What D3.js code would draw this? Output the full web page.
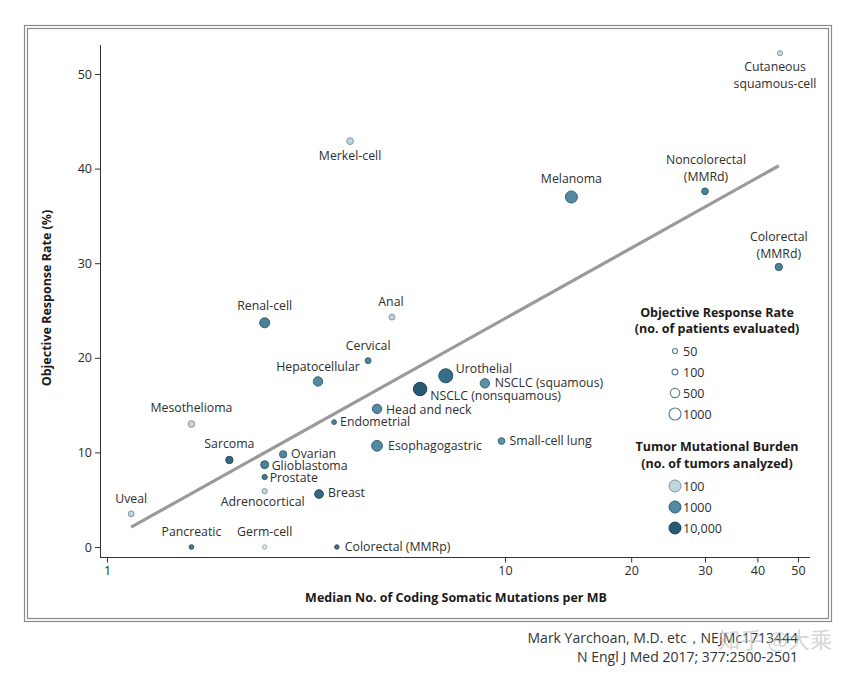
<!DOCTYPE html>
<html>
<head>
<meta charset="utf-8">
<script src="https://cdn.jsdelivr.net/npm/d3@7"></script>
<style>
  html, body { margin: 0; padding: 0; background: #ffffff; }
  svg { display: block; font-family: "Open Sans", "Noto Sans", sans-serif; }
</style>
</head>
<body>
<svg id="chart" width="853" height="675"></svg>
<script>
// ---------------- DATA ----------------
const cancers = [
  "Cutaneous squamous-cell", "Merkel-cell", "Melanoma", "Noncolorectal (MMRd)", "Colorectal (MMRd)",
  "Renal-cell", "Anal", "Cervical", "Hepatocellular", "Urothelial",
  "NSCLC (nonsquamous)", "NSCLC (squamous)", "Head and neck", "Endometrial", "Mesothelioma",
  "Esophagogastric", "Small-cell lung", "Sarcoma", "Ovarian", "Glioblastoma",
  "Prostate", "Adrenocortical", "Breast", "Uveal", "Pancreatic",
  "Germ-cell", "Colorectal (MMRp)"
];
// median no. of coding somatic mutations per MB
const mutationsPerMB = [
  45.3, 4.08, 14.4, 30.0, 45.0,
  2.49, 5.2, 4.53, 3.39, 7.1,
  6.12, 8.9, 4.77, 3.72, 1.63,
  4.77, 9.8, 2.03, 2.77, 2.49,
  2.49, 2.49, 3.41, 1.15, 1.63,
  2.49, 3.78
];
// objective response rate (%)
const responseRate = [
  52.2, 42.9, 37.0, 37.6, 29.6,
  23.7, 24.3, 19.7, 17.5, 18.1,
  16.7, 17.3, 14.6, 13.2, 13.0,
  10.7, 11.2, 9.2, 9.8, 8.7,
  7.4, 5.9, 5.6, 3.5, 0,
  0, 0
];
// no. of patients evaluated (ORR)
const patientsEvaluated = [
  60, 170, 1000, 170, 230,
  600, 100, 100, 500, 1500,
  1340, 500, 500, 35, 170,
  750, 170, 230, 230, 300,
  60, 60, 400, 100, 35,
  20, 25
];
// no. of tumors analyzed (TMB)
const tumorsAnalyzed = [
  80, 100, 1000, 1500, 1500,
  1500, 100, 1200, 1000, 4000,
  10000, 800, 1000, 1500, 100,
  1000, 800, 5000, 1000, 1500,
  2000, 90, 5000, 100, 2000,
  40, 3000
];
// regression line endpoints
const trendX = [1.15, 45];
const trendY = [2.1, 40.3];

const xTicks = [1, 10, 20, 30, 40, 50];
const yTicks = [0, 10, 20, 30, 40, 50];
const legendPatients = [50, 100, 500, 1000];
const legendTumors = [100, 1000, 10000];
const legendTumorLabels = ["100", "1000", "10,000"];

// ---------------- LABEL PLACEMENT (layout) ----------------
// [dx, dy, anchor, optional multi-line text split by "|"]
const labelPlace = {
  "Cutaneous squamous-cell": [-5, 18, "middle", "Cutaneous|squamous-cell"],
  "Merkel-cell": [0, 19, "middle"],
  "Melanoma": [0, -14, "middle"],
  "Noncolorectal (MMRd)": [1, -27, "middle", "Noncolorectal|(MMRd)"],
  "Colorectal (MMRd)": [0, -26, "middle", "Colorectal|(MMRd)"],
  "Renal-cell": [0, -13, "middle"],
  "Anal": [-1, -11, "middle"],
  "Cervical": [0, -11, "middle"],
  "Hepatocellular": [0, -10, "middle"],
  "Urothelial": [10, -3, "start"],
  "NSCLC (nonsquamous)": [10, 11, "start"],
  "NSCLC (squamous)": [10, 4, "start"],
  "Head and neck": [9, 5, "start"],
  "Endometrial": [6, 4, "start"],
  "Mesothelioma": [0, -12, "middle"],
  "Esophagogastric": [11, 4, "start"],
  "Small-cell lung": [8, 4, "start"],
  "Sarcoma": [0, -12, "middle"],
  "Ovarian": [8, 3.5, "start"],
  "Glioblastoma": [7, 5, "start"],
  "Prostate": [5, 5, "start"],
  "Adrenocortical": [-2, 15, "middle"],
  "Breast": [9, 3, "start"],
  "Uveal": [0, -11, "middle"],
  "Pancreatic": [0, -11, "middle"],
  "Germ-cell": [0, -11, "middle"],
  "Colorectal (MMRp)": [8, 4, "start"]
};

// ---------------- DRAW ----------------
const svg = d3.select("#chart");

const x = d3.scaleLog().domain([1, 10, 50]).range([107, 505, 798]);
const y = d3.scaleLinear().domain([0, 50]).range([547, 74]);
const r = d3.scaleSqrt().domain([0, 1000]).range([2.0, 6.5]);
const color = d3.scaleLog().domain([30, 100, 1000, 10000])
  .range(["#eef5f8", "#bdd6e0", "#528aa1", "#265a75"]).clamp(true);

// outer double frame
svg.append("rect").attr("x", 24.5).attr("y", 25.5).attr("width", 807).attr("height", 596)
  .attr("fill", "none").attr("stroke", "#8a8a8a").attr("stroke-width", 1.2);
svg.append("rect").attr("x", 27.5).attr("y", 28.5).attr("width", 801).attr("height", 590)
  .attr("fill", "none").attr("stroke", "#8a8a8a").attr("stroke-width", 1.2);

// axes
const axisColor = "#333";
const yAxis = svg.append("g").attr("transform", "translate(100,0)")
  .call(d3.axisLeft(y).tickValues(yTicks).tickSize(5).tickPadding(3).tickSizeOuter(0));
yAxis.select(".domain").remove();
svg.append("line").attr("x1", 100.5).attr("x2", 100.5).attr("y1", 45).attr("y2", 558)
  .attr("stroke", axisColor).attr("stroke-width", 1);

const xAxis = svg.append("g").attr("transform", "translate(0,557.5)")
  .call(d3.axisBottom(x).tickValues(xTicks).tickFormat(d3.format("d")).tickSize(5).tickPadding(4));
xAxis.select(".domain").remove();
svg.append("line").attr("x1", 100).attr("x2", 810).attr("y1", 557.5).attr("y2", 557.5)
  .attr("stroke", axisColor).attr("stroke-width", 1);

[yAxis, xAxis].forEach(g => {
  g.selectAll(".tick line").attr("stroke", axisColor);
  g.selectAll(".tick text").attr("fill", "#2a2a2a").attr("font-size", 12.5)
    .attr("font-family", "'Open Sans', sans-serif");
});

// axis titles
svg.append("text").attr("x", 456).attr("y", 602).attr("text-anchor", "middle")
  .attr("font-weight", "bold").attr("font-size", 12.5).attr("fill", "#1a1a1a")
  .text("Median No. of Coding Somatic Mutations per MB");
svg.append("text").attr("transform", "translate(51,298) rotate(-90)").attr("text-anchor", "middle")
  .attr("font-weight", "bold").attr("font-size", 12.5).attr("fill", "#1a1a1a")
  .text("Objective Response Rate (%)");

// regression line
svg.append("line")
  .attr("x1", x(trendX[0])).attr("y1", y(trendY[0]))
  .attr("x2", x(trendX[1])).attr("y2", y(trendY[1]))
  .attr("stroke", "#9a9a9a").attr("stroke-width", 3.2);

// points
const pts = cancers.map((c, i) => ({
  name: c, mx: mutationsPerMB[i], orr: responseRate[i],
  n: patientsEvaluated[i], t: tumorsAnalyzed[i]
}));

svg.append("g").selectAll("circle").data(pts).join("circle")
  .attr("cx", d => x(d.mx)).attr("cy", d => y(d.orr))
  .attr("r", d => r(d.n) - 0.5)
  .attr("fill", d => color(d.t))
  .attr("stroke", d => d3.color(color(d.t)).darker(1))
  .attr("stroke-width", 1);

// labels
const lbl = svg.append("g").attr("font-size", 12.3).attr("fill", "#2e2e2e");
pts.forEach(d => {
  const p = labelPlace[d.name];
  const lines = (p[3] || d.name).split("|");
  const t = lbl.append("text")
    .attr("x", x(d.mx) + p[0]).attr("y", y(d.orr) + p[1])
    .attr("text-anchor", p[2]);
  lines.forEach((ln, k) => {
    t.append("tspan").attr("x", x(d.mx) + p[0]).attr("dy", k === 0 ? 0 : 17).text(ln);
  });
});

// legend: ORR (patients)
const lg = svg.append("g");
lg.append("text").attr("x", 717).attr("y", 317).attr("text-anchor", "middle")
  .attr("font-weight", "bold").attr("font-size", 12.5).attr("fill", "#1a1a1a")
  .text("Objective Response Rate");
lg.append("text").attr("x", 717).attr("y", 333).attr("text-anchor", "middle")
  .attr("font-weight", "bold").attr("font-size", 12.5).attr("fill", "#1a1a1a")
  .text("(no. of patients evaluated)");
const legY1 = d3.scalePoint().domain(legendPatients).range([351, 414]);
legendPatients.forEach(v => {
  lg.append("circle").attr("cx", 675).attr("cy", legY1(v)).attr("r", r(v) - 0.5)
    .attr("fill", "#fff").attr("stroke", "#5d8596").attr("stroke-width", 1.2);
  lg.append("text").attr("x", 683).attr("y", legY1(v) + 4.5)
    .attr("font-size", 12.5).attr("fill", "#2e2e2e").text(v);
});

// legend: TMB (tumors)
lg.append("text").attr("x", 717).attr("y", 451).attr("text-anchor", "middle")
  .attr("font-weight", "bold").attr("font-size", 12.5).attr("fill", "#1a1a1a")
  .text("Tumor Mutational Burden");
lg.append("text").attr("x", 717).attr("y", 468).attr("text-anchor", "middle")
  .attr("font-weight", "bold").attr("font-size", 12.5).attr("fill", "#1a1a1a")
  .text("(no. of tumors analyzed)");
const legY2 = d3.scalePoint().domain(legendTumors).range([486, 528]);
legendTumors.forEach((v, i) => {
  lg.append("circle").attr("cx", 675).attr("cy", legY2(v)).attr("r", 6)
    .attr("fill", color(v)).attr("stroke", d3.color(color(v)).darker(1)).attr("stroke-width", 1);
  lg.append("text").attr("x", 683).attr("y", legY2(v) + 4.5)
    .attr("font-size", 12.5).attr("fill", "#2e2e2e").text(legendTumorLabels[i]);
});

// caption
svg.append("text").attr("x", 798).attr("y", 643).attr("text-anchor", "end")
  .attr("font-size", 14).attr("fill", "#333").text("Mark Yarchoan, M.D. etc，NEJMc1713444");
svg.append("text").attr("x", 798).attr("y", 662).attr("text-anchor", "end")
  .attr("font-size", 14).attr("fill", "#333").text("N Engl J Med 2017; 377:2500-2501");
// watermark
svg.append("text").attr("x", 832).attr("y", 648).attr("text-anchor", "end")
  .attr("font-family", "'Noto Sans CJK SC', sans-serif")
  .attr("font-size", 22).attr("fill", "#bbb").attr("opacity", 0.6).text("知乎 @大乘");
</script>
</body>
</html>
